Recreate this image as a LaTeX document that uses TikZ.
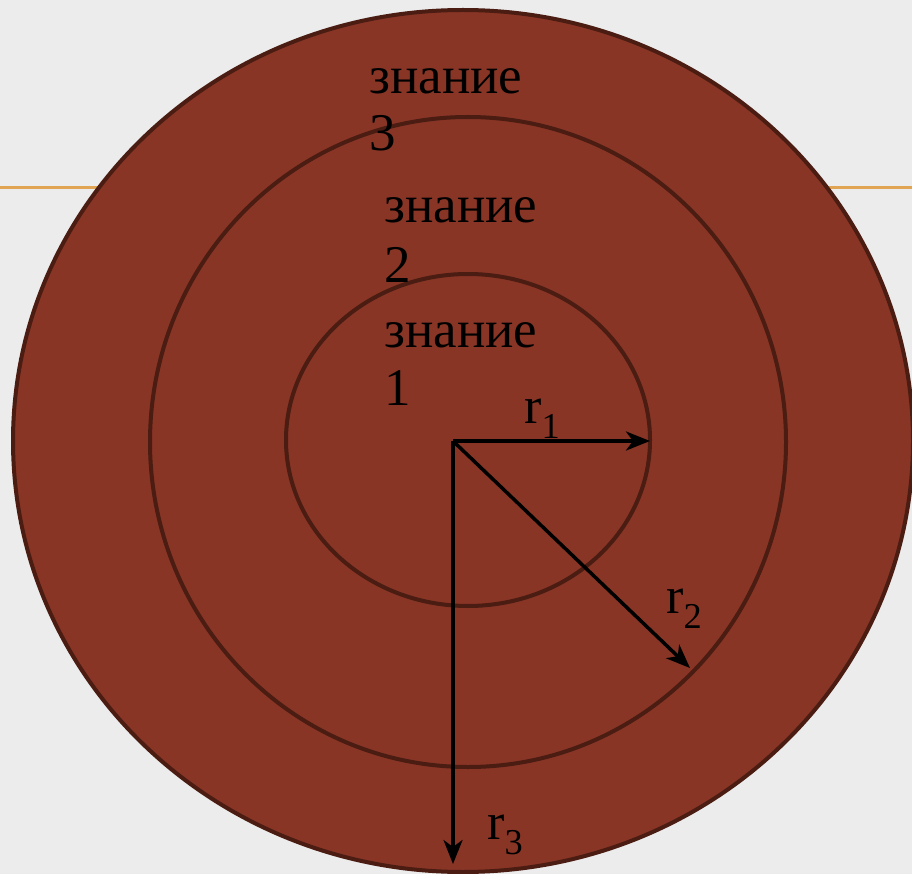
\documentclass[tikz,border=0pt]{standalone}
\usepackage{fontspec}
\setmainfont{Liberation Serif}
\usetikzlibrary{arrows.meta}
\definecolor{bg}{HTML}{ECECEC}
\definecolor{fillc}{HTML}{883526}
\definecolor{edgec}{HTML}{4A1C12}
\definecolor{orangec}{HTML}{E0A452}
\tikzset{
  ring/.style={draw=edgec, line width=4pt},
  lbl/.style={anchor=base west, inner sep=0pt, font=\fontsize{53}{60}\selectfont, text=black},
  rlbl/.style={anchor=base west, inner sep=0pt, font=\fontsize{52}{56}\selectfont, text=black},
  radius/.style={draw=black, line width=3.5pt, -{Stealth[length=24pt,width=19pt,inset=7pt]}}
}
\begin{document}
\begin{tikzpicture}[x=1pt,y=-1pt]
\fill[bg] (0,0) rectangle (912,874);
\useasboundingbox (0,0) rectangle (912,874);
\draw[orangec, line width=3pt] (0,188) -- (912,188);
\fill[fillc] (463,441) ellipse [x radius=450, y radius=431];
\draw[ring] (463,441) ellipse [x radius=450, y radius=431];
\draw[ring] (468,442) ellipse [x radius=318, y radius=325];
\draw[ring] (468,440) ellipse [x radius=182, y radius=166];
\coordinate (o) at (453,441);
\coordinate (e1) at (650,441);
\coordinate (e2) at (690,668);
\coordinate (e3) at (453,864);
\draw[radius] (o) -- (e1);
\draw[radius] (o) -- (e2);
\draw[radius] (o) -- (e3);
\node[lbl] (k3a) at (369,94) {знание};
\node[lbl] (k3b) at (369,151) {3};
\node[lbl] (k2a) at (384,223) {знание};
\node[lbl] (k2b) at (384,283) {2};
\node[lbl] (k1a) at (384,347) {знание};
\node[lbl] (k1b) at (384,405) {1};
\node[rlbl] (r1) at (524,423) {r\textsubscript{1}};
\node[rlbl] (r2) at (666,613) {r\textsubscript{2}};
\node[rlbl] (r3) at (487,839) {r\textsubscript{3}};
\end{tikzpicture}
\end{document}
